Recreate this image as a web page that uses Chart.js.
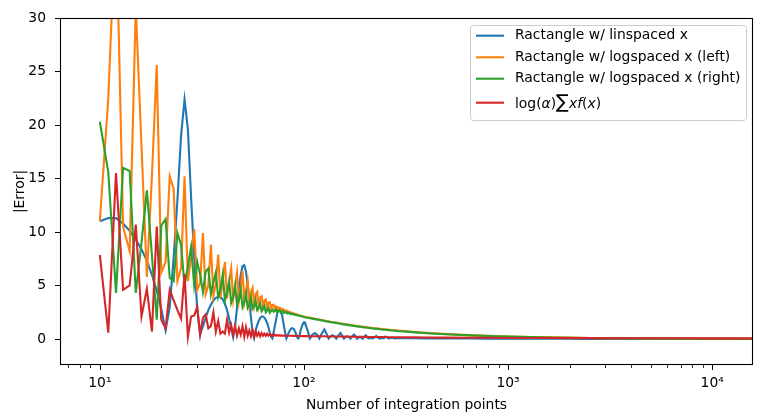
<!DOCTYPE html>
<html>
<head>
<meta charset="utf-8">
<script src="https://cdn.jsdelivr.net/npm/chart.js@4.4.1/dist/chart.umd.min.js"></script>
<style>
  html, body { margin: 0; padding: 0; background: #fff; }
  #wrap { width: 768px; height: 414px; }
</style>
</head>
<body>
<div id="wrap"><canvas id="errorChart" width="768" height="414"></canvas></div>
<script>
// number of integration points, every integer up to 100
const nLow = [
  10, 11, 12, 13, 14, 15, 16, 17, 18, 19,
  20, 21, 22, 23, 24, 25, 26, 27, 28, 29,
  30, 31, 32, 33, 34, 35, 36, 37, 38, 39,
  40, 41, 42, 43, 44, 45, 46, 47, 48, 49,
  50, 51, 52, 53, 54, 55, 56, 57, 58, 59,
  60, 61, 62, 63, 64, 65, 66, 67, 68, 69,
  70, 71, 72, 73, 74, 75, 76, 77, 78, 79,
  80, 81, 82, 83, 84, 85, 86, 87, 88, 89,
  90, 91, 92, 93, 94, 95, 96, 97, 98, 99,
  100
];
// beyond 100, sparser
const nHigh = [
  101, 104, 107, 110, 113, 116, 119, 122, 126, 129,
  132, 135, 138, 141, 144, 148, 151, 154, 157, 160,
  163, 166, 169, 172, 176, 179, 182, 185, 188, 191,
  194, 197, 201, 205, 209, 213, 217, 221, 226, 231,
  236, 241, 246, 251, 260, 270, 280, 290, 300, 350,
  400, 500, 650, 800, 1000, 1300, 1600, 2000, 2500, 3200,
  4000, 5000, 6300, 8000, 10000, 12600, 16000
];

const linLow = [
  11.0, 11.3, 11.3, 10.8, 10.1, 9.3, 8.4, 7.3, 6.0, 4.5,
  2.8, 0.8, 3.0, 7.6, 13.0, 19.0, 22.4, 19.6, 13.2, 7.6,
  2.8, 0.4, 1.2, 2.0, 2.7, 3.2, 3.6, 3.85, 3.95, 3.9,
  3.7, 3.3, 2.7, 1.9, 1.0, 0.15, 1.2, 2.9, 4.6, 6.0,
  6.8, 6.9, 6.3, 5.1, 3.6, 2.0, 0.7, 0.1, 0.8, 1.3,
  1.7, 1.95, 2.1, 2.1, 2.0, 1.8, 1.5, 1.1, 0.6, 0.2,
  0.05, 0.6, 1.2, 1.8, 2.4, 2.8, 2.9, 2.7, 2.3, 1.7,
  1.1, 0.5, 0.05, 0.3, 0.55, 0.75, 0.9, 1.0, 1.0, 0.95,
  0.8, 0.6, 0.35, 0.1, 0.05, 0.3, 0.7, 1.0, 1.25, 1.45,
  1.55
];
const linHigh = [
  1.55, 0.85, 0.05, 0.4, 0.55, 0.4, 0.05, 0.5, 0.9, 0.5,
  0.04, 0.25, 0.35, 0.25, 0.03, 0.35, 0.55, 0.3, 0.03, 0.18,
  0.25, 0.18, 0.03, 0.25, 0.42, 0.25, 0.03, 0.13, 0.2, 0.13,
  0.02, 0.2, 0.35, 0.12, 0.04, 0.15, 0.05, 0.12, 0.28, 0.1,
  0.04, 0.12, 0.06, 0.22, 0.05, 0.12, 0.05, 0.1, 0.07, 0.07,
  0.06, 0.05, 0.04, 0.035, 0.03, 0.025, 0.02, 0.02, 0.015, 0.015,
  0.01, 0.01, 0.01, 0.01, 0.005, 0.005, 0.005
];

const logLeftLow = [
  11.0, 22.5, 40, 10.5, 8.2, 31, 18, 5.8, 15.3, 25.6,
  6.2, 7.2, 15.2, 14.0, 5.4, 6.6, 15.2, 5.4, 7.6, 10.3,
  4.6, 5.2, 9.9, 4.2, 5.0, 8.8, 4.0, 5.2, 7.9, 3.9,
  5.5, 7.2, 3.8, 5.4, 6.6, 3.7, 5.0, 6.2, 3.6, 4.8,
  6.4, 3.5, 4.6, 5.4, 3.3, 4.4, 4.8, 3.2, 4.2, 4.4,
  3.1, 3.9, 4.0, 3.0, 3.6, 3.7, 2.9, 3.4, 3.45, 2.85,
  3.2, 3.2, 2.75, 3.05, 3.0, 2.7, 2.9, 2.88, 2.62, 2.78,
  2.72, 2.55, 2.65, 2.6, 2.48, 2.55, 2.5, 2.4, 2.44, 2.4,
  2.32, 2.34, 2.3, 2.25, 2.26, 2.22, 2.19, 2.18, 2.15, 2.13,
  2.1
];
const logLeftHigh = [
  2.08, 2.03, 1.99, 1.95, 1.9, 1.86, 1.82, 1.78, 1.73, 1.69,
  1.66, 1.62, 1.59, 1.56, 1.53, 1.49, 1.46, 1.43, 1.41, 1.38,
  1.36, 1.34, 1.31, 1.29, 1.26, 1.24, 1.22, 1.2, 1.18, 1.17,
  1.15, 1.13, 1.11, 1.09, 1.07, 1.05, 1.03, 1.01, 0.99, 0.97,
  0.95, 0.93, 0.91, 0.9, 0.87, 0.84, 0.81, 0.78, 0.76, 0.65,
  0.57, 0.46, 0.36, 0.29, 0.24, 0.19, 0.15, 0.125, 0.1, 0.08,
  0.064, 0.051, 0.04, 0.032, 0.026, 0.02, 0.016
];

const logRightLow = [
  20.3, 15.6, 4.3, 16.0, 15.7, 4.3, 9.0, 13.9, 7.8, 1.8,
  10.6, 11.2, 5.7, 5.4, 9.9, 8.8, 5.0, 6.8, 8.6, 5.0,
  7.2, 6.0, 4.4, 6.3, 6.6, 4.2, 5.3, 6.2, 3.9, 4.6,
  6.0, 3.6, 4.4, 5.4, 3.4, 4.0, 5.0, 3.2, 3.6, 4.6,
  3.0, 3.4, 4.2, 2.9, 3.2, 3.9, 2.8, 3.0, 3.6, 2.7,
  2.9, 3.3, 2.6, 2.8, 3.1, 2.5, 2.7, 2.9, 2.45, 2.6,
  2.75, 2.55, 2.65, 2.75, 2.5, 2.6, 2.68, 2.45, 2.55, 2.6,
  2.42, 2.48, 2.52, 2.38, 2.42, 2.44, 2.32, 2.35, 2.36, 2.27,
  2.28, 2.27, 2.22, 2.21, 2.19, 2.16, 2.14, 2.12, 2.1, 2.08,
  2.06
];
const logRightHigh = [
  2.03, 1.98, 1.94, 1.9, 1.86, 1.82, 1.78, 1.74, 1.69, 1.65,
  1.62, 1.58, 1.55, 1.52, 1.49, 1.45, 1.42, 1.39, 1.37, 1.34,
  1.32, 1.3, 1.27, 1.25, 1.22, 1.2, 1.18, 1.16, 1.14, 1.13,
  1.11, 1.09, 1.07, 1.05, 1.03, 1.01, 0.99, 0.97, 0.95, 0.93,
  0.91, 0.89, 0.87, 0.86, 0.83, 0.8, 0.77, 0.74, 0.72, 0.62,
  0.54, 0.44, 0.34, 0.28, 0.23, 0.18, 0.145, 0.12, 0.095, 0.075,
  0.06, 0.048, 0.038, 0.03, 0.024, 0.019, 0.015
];

const sumLow = [
  7.85, 0.6, 15.5, 4.6, 5.0, 10.7, 2.1, 4.7, 0.7, 10.5,
  1.8, 1.0, 4.6, 3.6, 2.7, 1.9, 6.1, 0.2, 2.1, 2.2,
  3.0, 0.4, 2.0, 2.3, 1.0, 1.2, 2.5, 0.7, 1.7, 0.5,
  0.7, 0.5, 1.8, 0.6, 1.3, 0.4, 1.2, 0.3, 1.0, 0.4,
  1.2, 0.2, 1.1, 0.3, 0.8, 0.25, 0.8, 0.2, 0.7, 0.3,
  0.6, 0.25, 0.55, 0.3, 0.5, 0.3, 0.5, 0.3, 0.45, 0.3,
  0.42, 0.3, 0.4, 0.3, 0.38, 0.3, 0.36, 0.3, 0.34, 0.3,
  0.32, 0.31, 0.3, 0.31, 0.3, 0.3, 0.3, 0.3, 0.29, 0.29,
  0.29, 0.29, 0.28, 0.28, 0.28, 0.28, 0.28, 0.27, 0.27, 0.27,
  0.27
];
const sumHigh = [
  0.27, 0.27, 0.26, 0.26, 0.26, 0.25, 0.25, 0.25, 0.25, 0.24,
  0.24, 0.24, 0.24, 0.23, 0.23, 0.23, 0.23, 0.22, 0.22, 0.22,
  0.22, 0.22, 0.21, 0.21, 0.21, 0.21, 0.21, 0.2, 0.2, 0.2,
  0.2, 0.2, 0.2, 0.2, 0.19, 0.19, 0.19, 0.19, 0.19, 0.18,
  0.18, 0.18, 0.18, 0.18, 0.17, 0.17, 0.17, 0.16, 0.16, 0.15,
  0.14, 0.13, 0.12, 0.11, 0.1, 0.095, 0.09, 0.085, 0.08, 0.075,
  0.07, 0.068, 0.065, 0.063, 0.06, 0.06, 0.058
];

const seriesLabels = [
  "Ractangle w/ linspaced x",
  "Ractangle w/ logspaced x (left)",
  "Ractangle w/ logspaced x (right)",
  "log(α)∑xf(x)",
];
const seriesColors = ["#1f77b4", "#ff7f0e", "#2ca02c", "#d62728"];

const xMajorTicks = [10, 100, 1000, 10000];
const xTickLabels = ["10¹", "10²", "10³", "10⁴"];
const xMinorTicks = [7, 8, 9, 20, 30, 40, 50, 60, 70, 80, 90, 200, 300, 400, 500, 600, 700, 800, 900,
  2000, 3000, 4000, 5000, 6000, 7000, 8000, 9000];
const yTicks = [0, 5, 10, 15, 20, 25, 30];

const FONT = '"DejaVu Sans", sans-serif';
const FS = 13.89;

function toPoints(xs, ys) {
  return xs.map((x, i) => ({ x: x, y: ys[i] }));
}

// matplotlib style: frame and outward ticks
const axesFrame = {
  id: "axesFrame",
  afterDatasetsDraw(chart) {
    const { ctx, chartArea: a, scales } = chart;
    ctx.save();
    ctx.strokeStyle = "#000";
    ctx.lineWidth = 1;
    ctx.beginPath();
    xMajorTicks.forEach((v) => {
      const px = Math.round(scales.x.getPixelForValue(v)) + 0.5;
      ctx.moveTo(px, a.bottom);
      ctx.lineTo(px, a.bottom + 5);
    });
    yTicks.forEach((v) => {
      const py = Math.round(scales.y.getPixelForValue(v)) + 0.5;
      ctx.moveTo(a.left - 5, py);
      ctx.lineTo(a.left, py);
    });
    ctx.stroke();
    ctx.lineWidth = 0.8;
    ctx.beginPath();
    xMinorTicks.forEach((v) => {
      const px = Math.round(scales.x.getPixelForValue(v)) + 0.5;
      ctx.moveTo(px, a.bottom);
      ctx.lineTo(px, a.bottom + 3);
    });
    ctx.stroke();
    ctx.lineWidth = 1.1;
    ctx.strokeRect(a.left + 0.5, a.top + 0.5, a.right - a.left - 1, a.bottom - a.top - 1);
    ctx.restore();
  },
};

function drawMathLabel(ctx, x, yMid) {
  const base = yMid + 5;
  const parts = [
    ["log(", `${FS}px ${FONT}`],
    ["α", `italic ${FS}px ${FONT}`],
    [")", `${FS}px ${FONT}`],
    ["∑", `19px ${FONT}`],
    ["x", `italic ${FS}px ${FONT}`],
    ["f", `italic ${FS}px ${FONT}`],
    ["(", `${FS}px ${FONT}`],
    ["x", `italic ${FS}px ${FONT}`],
    [")", `${FS}px ${FONT}`],
  ];
  ctx.textBaseline = "alphabetic";
  parts.forEach(([txt, font]) => {
    ctx.font = font;
    ctx.fillText(txt, x, base);
    x += ctx.measureText(txt).width;
  });
}

const legendBox = {
  id: "legendBox",
  afterDraw(chart) {
    const ctx = chart.ctx;
    const left = 470.5, top = 25.5, right = 746.5, bottom = 120.5, r = 3;
    ctx.save();
    ctx.beginPath();
    ctx.moveTo(left + r, top);
    ctx.arcTo(right, top, right, bottom, r);
    ctx.arcTo(right, bottom, left, bottom, r);
    ctx.arcTo(left, bottom, left, top, r);
    ctx.arcTo(left, top, right, top, r);
    ctx.closePath();
    ctx.fillStyle = "rgba(255,255,255,0.8)";
    ctx.fill();
    ctx.strokeStyle = "#cccccc";
    ctx.lineWidth = 1;
    ctx.stroke();

    const rows = [35.7, 57.3, 78.7, 102.7];
    seriesLabels.forEach((label, i) => {
      const y = rows[i];
      ctx.strokeStyle = seriesColors[i];
      ctx.lineWidth = 2.1;
      ctx.beginPath();
      ctx.moveTo(476, y);
      ctx.lineTo(504, y);
      ctx.stroke();
      ctx.fillStyle = "#000";
      if (i === 3) {
        drawMathLabel(ctx, 515, y);
      } else {
        ctx.font = `${FS}px ${FONT}`;
        ctx.textBaseline = "middle";
        ctx.fillText(label, 515, y);
      }
    });
    ctx.restore();
  },
};

const allLow = [linLow, logLeftLow, logRightLow, sumLow];
const allHigh = [linHigh, logLeftHigh, logRightHigh, sumHigh];

const datasets = seriesLabels.map((label, i) => ({
  label: label,
  data: toPoints(nLow, allLow[i]).concat(toPoints(nHigh, allHigh[i])),
  borderColor: seriesColors[i],
  backgroundColor: seriesColors[i],
  borderWidth: 2.1,
  pointRadius: 0,
  tension: 0,
  fill: false,
  clip: 0,
  order: 3 - i,
}));

Chart.defaults.font.family = FONT;
Chart.defaults.font.size = FS;
Chart.defaults.color = "#000";

new Chart(document.getElementById("errorChart").getContext("2d"), {
  type: "line",
  data: { datasets: datasets },
  options: {
    responsive: false,
    animation: false,
    devicePixelRatio: 1,
    layout: { padding: { left: 0, right: 15, top: 18, bottom: 0 } },
    plugins: {
      legend: { display: false },
      tooltip: { enabled: false },
    },
    scales: {
      x: {
        type: "logarithmic",
        min: 6.38,
        max: 15850,
        grid: { display: false },
        border: { display: false },
        afterBuildTicks: (scale) => {
          scale.ticks = xMajorTicks.map((v) => ({ value: v }));
        },
        afterFit: (scale) => {
          scale.height = 49;
        },
        ticks: {
          autoSkip: false,
          maxRotation: 0,
          padding: 2,
          callback: (value) => xTickLabels[xMajorTicks.indexOf(value)] || "",
        },
        title: {
          display: true,
          text: "Number of integration points",
          padding: { top: 2, bottom: 0 },
        },
      },
      y: {
        type: "linear",
        min: -2.43,
        max: 30,
        grid: { display: false },
        border: { display: false },
        afterBuildTicks: (scale) => {
          scale.ticks = yTicks.map((v) => ({ value: v }));
        },
        afterFit: (scale) => {
          scale.width = 60;
        },
        ticks: { padding: 6 },
        title: {
          display: true,
          text: "|Error|",
          padding: { top: 12, bottom: 0 },
        },
      },
    },
  },
  plugins: [axesFrame, legendBox],
});
</script>
</body>
</html>
